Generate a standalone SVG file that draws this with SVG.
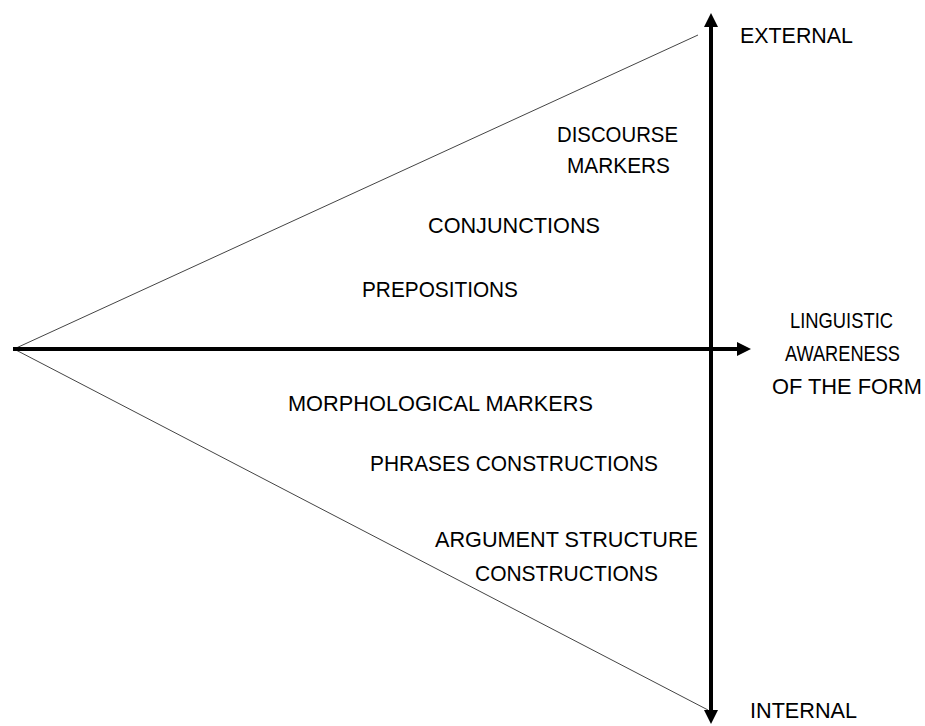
<svg xmlns="http://www.w3.org/2000/svg" width="925" height="726" viewBox="0 0 925 726">
<style>
.lbl{font-family:"Liberation Sans",Arial,sans-serif;font-size:22px;fill:#000;text-anchor:middle}
.thin{stroke:#444;stroke-width:1;fill:none}
.axis{stroke:#000;stroke-width:4;fill:none}
</style>
<defs>
<marker id="ah" markerWidth="14" markerHeight="14" viewBox="0 0 14 14" refX="0" refY="7" orient="auto" markerUnits="userSpaceOnUse">
<path d="M0,0 L14,7 L0,14 Z" fill="#000"/>
</marker>
</defs>
<rect width="925" height="726" fill="#fff"/>
<g id="connectors">
<line class="thin" x1="14" y1="349" x2="698" y2="35"/>
<line class="thin" x1="14" y1="349" x2="708" y2="710"/>
<line class="axis" x1="13" y1="349" x2="737" y2="349" marker-end="url(#ah)"/>
<line class="axis" x1="711" y1="364" x2="711" y2="27" marker-end="url(#ah)"/>
<line class="axis" x1="711" y1="340" x2="711" y2="710" marker-end="url(#ah)"/>
</g>
<g id="external"><text class="lbl" x="796.5" y="43" textLength="113" lengthAdjust="spacingAndGlyphs">EXTERNAL</text></g>
<g id="internal"><text class="lbl" x="803.5" y="718" textLength="107" lengthAdjust="spacingAndGlyphs">INTERNAL</text></g>
<g id="linguistic">
<text class="lbl" x="841.5" y="328" textLength="103" lengthAdjust="spacingAndGlyphs">LINGUISTIC</text>
<text class="lbl" x="842.5" y="361" textLength="115" lengthAdjust="spacingAndGlyphs">AWARENESS</text>
<text class="lbl" x="847" y="394" textLength="150" lengthAdjust="spacingAndGlyphs">OF THE FORM</text>
</g>
<g id="discourse">
<text class="lbl" x="617.5" y="142" textLength="121" lengthAdjust="spacingAndGlyphs">DISCOURSE</text>
<text class="lbl" x="618.5" y="173" textLength="103" lengthAdjust="spacingAndGlyphs">MARKERS</text>
</g>
<g id="conjunctions"><text class="lbl" x="514" y="233" textLength="172" lengthAdjust="spacingAndGlyphs">CONJUNCTIONS</text></g>
<g id="prepositions"><text class="lbl" x="440" y="297" textLength="156" lengthAdjust="spacingAndGlyphs">PREPOSITIONS</text></g>
<g id="morphological"><text class="lbl" x="440.5" y="411" textLength="305" lengthAdjust="spacingAndGlyphs">MORPHOLOGICAL MARKERS</text></g>
<g id="phrases"><text class="lbl" x="514" y="471" textLength="288" lengthAdjust="spacingAndGlyphs">PHRASES CONSTRUCTIONS</text></g>
<g id="argument">
<text class="lbl" x="566.5" y="547" textLength="263" lengthAdjust="spacingAndGlyphs">ARGUMENT STRUCTURE</text>
<text class="lbl" x="566.5" y="581" textLength="183" lengthAdjust="spacingAndGlyphs">CONSTRUCTIONS</text>
</g>
</svg>
